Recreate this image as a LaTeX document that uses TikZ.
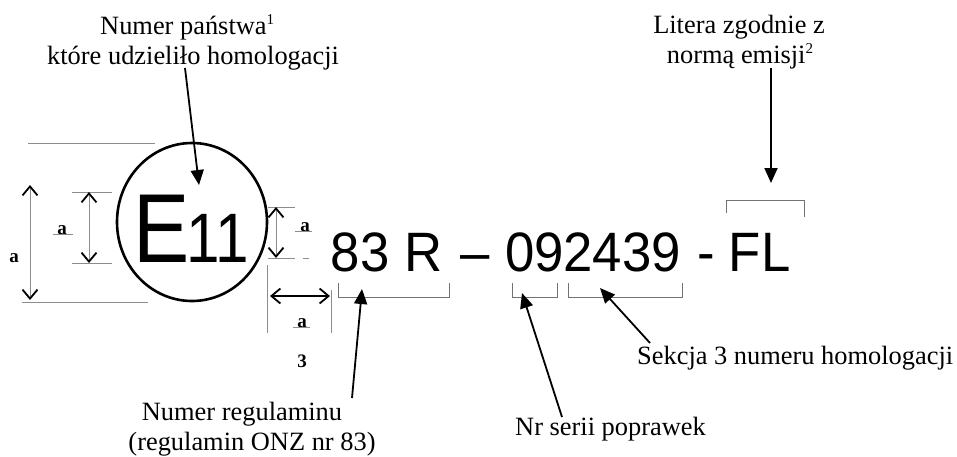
\documentclass[tikz,border=0pt]{standalone}
\usepackage{fontspec}
\setmainfont{Liberation Serif}
\newfontfamily\arialf{Liberation Sans}
\usetikzlibrary{arrows.meta,shapes.geometric}
\newcommand{\supnum}[1]{\raisebox{10pt}{\fontsize{15}{15}\selectfont #1}}
\begin{document}
\begin{tikzpicture}[x=1pt,y=-1pt,
  lbl/.style={font=\fontsize{26.4}{30}\selectfont, inner sep=0, anchor=base},
  lblw/.style={font=\fontsize{26.4}{30}\selectfont, inner sep=0, anchor=base west},
  big/.style={font=\arialf\fontsize{55.5}{60}\selectfont, inner sep=0, anchor=base west},
  dimlbl/.style={font=\bfseries\fontsize{19}{22}\selectfont, inner sep=0, anchor=base},
  dimline/.style={draw=black!45, line width=0.9pt},
  brk/.style={draw=black!55, line width=1pt},
  callout/.style={-{Triangle[length=15pt,width=13pt]}, line width=1.8pt},
  dimarrow/.style={{Straight Barb[length=9pt,width=15pt,color=black,line width=1.8pt]}-{Straight Barb[length=9pt,width=15pt,color=black,line width=1.8pt]}, draw=black!45, line width=0.9pt},
  dimarrowk/.style={{Straight Barb[length=9pt,width=15pt,line width=1.8pt]}-{Straight Barb[length=9pt,width=15pt,line width=1.8pt]}, draw=black, line width=1.8pt}
]
\useasboundingbox (0,0) rectangle (957,456);

% circle mark
\node[ellipse, draw, line width=2.6pt, minimum width=150pt, minimum height=158pt, inner sep=0] (circ) at (192,222) {};
\node[inner sep=0, anchor=base west, font=\arialf\fontsize{98}{100}\selectfont] (E) at (133.4,262) {\scalebox{0.86}[1]{E}};
\node[inner sep=0, anchor=base west, font=\arialf\fontsize{70}{72}\selectfont] (eleven) at (186.5,262) {\scalebox{0.86}[1]{11}};

% main approval string
\node[big] (n83) at (330.7,271) {\scalebox{0.95}[1]{83 R}};
\node[big] (endash) at (460,271) {\scalebox{0.95}[1]{–}};
\node[big] (n09) at (504.8,271) {\scalebox{0.95}[1]{092439}};
\node[big] (hyph) at (697.7,271) {\scalebox{0.95}[1]{-}};
\node[big] (nFL) at (728.7,271) {\scalebox{0.95}[1]{FL}};

% brackets
\draw[brk] (338,283) |- (449,297) -- (449,283);
\draw[brk] (512,283) |- (557,297) -- (557,283);
\draw[brk] (568,283) |- (682,297) -- (682,283);
\draw[brk] (726,213) |- (804,200) -- (804,217);

% dimension extension lines
\draw[dimline] (28,143) -- (155,143);
\draw[dimline] (22,302) -- (148,302);
\draw[dimline] (72,192) -- (112,192);
\draw[dimline] (72,263) -- (112,263);
\draw[dimline] (268,207) -- (295,207);
\draw[dimline] (268,258) -- (295,258);
\draw[dimline] (267,265) -- (267,333);
\draw[dimline] (331,290) -- (331,333);

% dimension arrows
\coordinate (d1a) at (30,185); \coordinate (d1b) at (30,300);
\coordinate (d2a) at (89,192); \coordinate (d2b) at (89,263);
\coordinate (d3a) at (276,207); \coordinate (d3b) at (276,258);
\coordinate (d4a) at (270,296); \coordinate (d4b) at (330,296);
\draw[dimarrow] (d1a) -- (d1b);
\draw[dimarrow] (d2a) -- (d2b);
\draw[dimarrow] (d3a) -- (d3b);
\draw[dimarrowk] (d4a) -- (d4b);

% dimension labels
\node[dimlbl] (a1) at (14,262) {a};
\node[dimlbl] (a2) at (62,234) {a};
\node[dimlbl] (a3) at (305,231) {a};
\node[dimlbl] (a4) at (302,327) {a};
\node[dimlbl] (three) at (302,367) {3};
\draw[dimline] (53,234) -- (73,234);
\draw[dimline] (295,231) -- (312,231);
\draw[dimline] (303,258) -- (309,258);
\draw[dimline] (293,327) -- (310,327);

% labels
\node[lblw] (t1a) at (100,34) {Numer państwa\supnum{1}};
\node[lblw] (t1b) at (47,64) {które udzieliło homologacji};
\node[lbl] (t2a) at (739,33) {Litera zgodnie z};
\node[lbl] (t2b) at (740,63) {normą emisji\supnum{2}};
\node[lbl] (t3a) at (242,420) {Numer regulaminu};
\node[lbl] (t3b) at (252,450) {(regulamin ONZ nr 83)};
\node[lblw] (t4) at (515,435) {Nr serii poprawek};
\node[lblw] (t5) at (637,364) {Sekcja 3 numeru homologacji};

% callout arrows
\coordinate (c1s) at (185,68); \coordinate (c1e) at (199,185);
\coordinate (c2s) at (771,68); \coordinate (c2e) at (771,183);
\coordinate (c3s) at (352,398); \coordinate (c3e) at (362,289);
\coordinate (c4s) at (562,417); \coordinate (c4e) at (522,293);
\coordinate (c5s) at (650,343); \coordinate (c5e) at (600,288);
\draw[callout] (c1s) -- (c1e);
\draw[callout] (c2s) -- (c2e);
\draw[callout] (c3s) -- (c3e);
\draw[callout] (c4s) -- (c4e);
\draw[callout] (c5s) -- (c5e);
\end{tikzpicture}
\end{document}
